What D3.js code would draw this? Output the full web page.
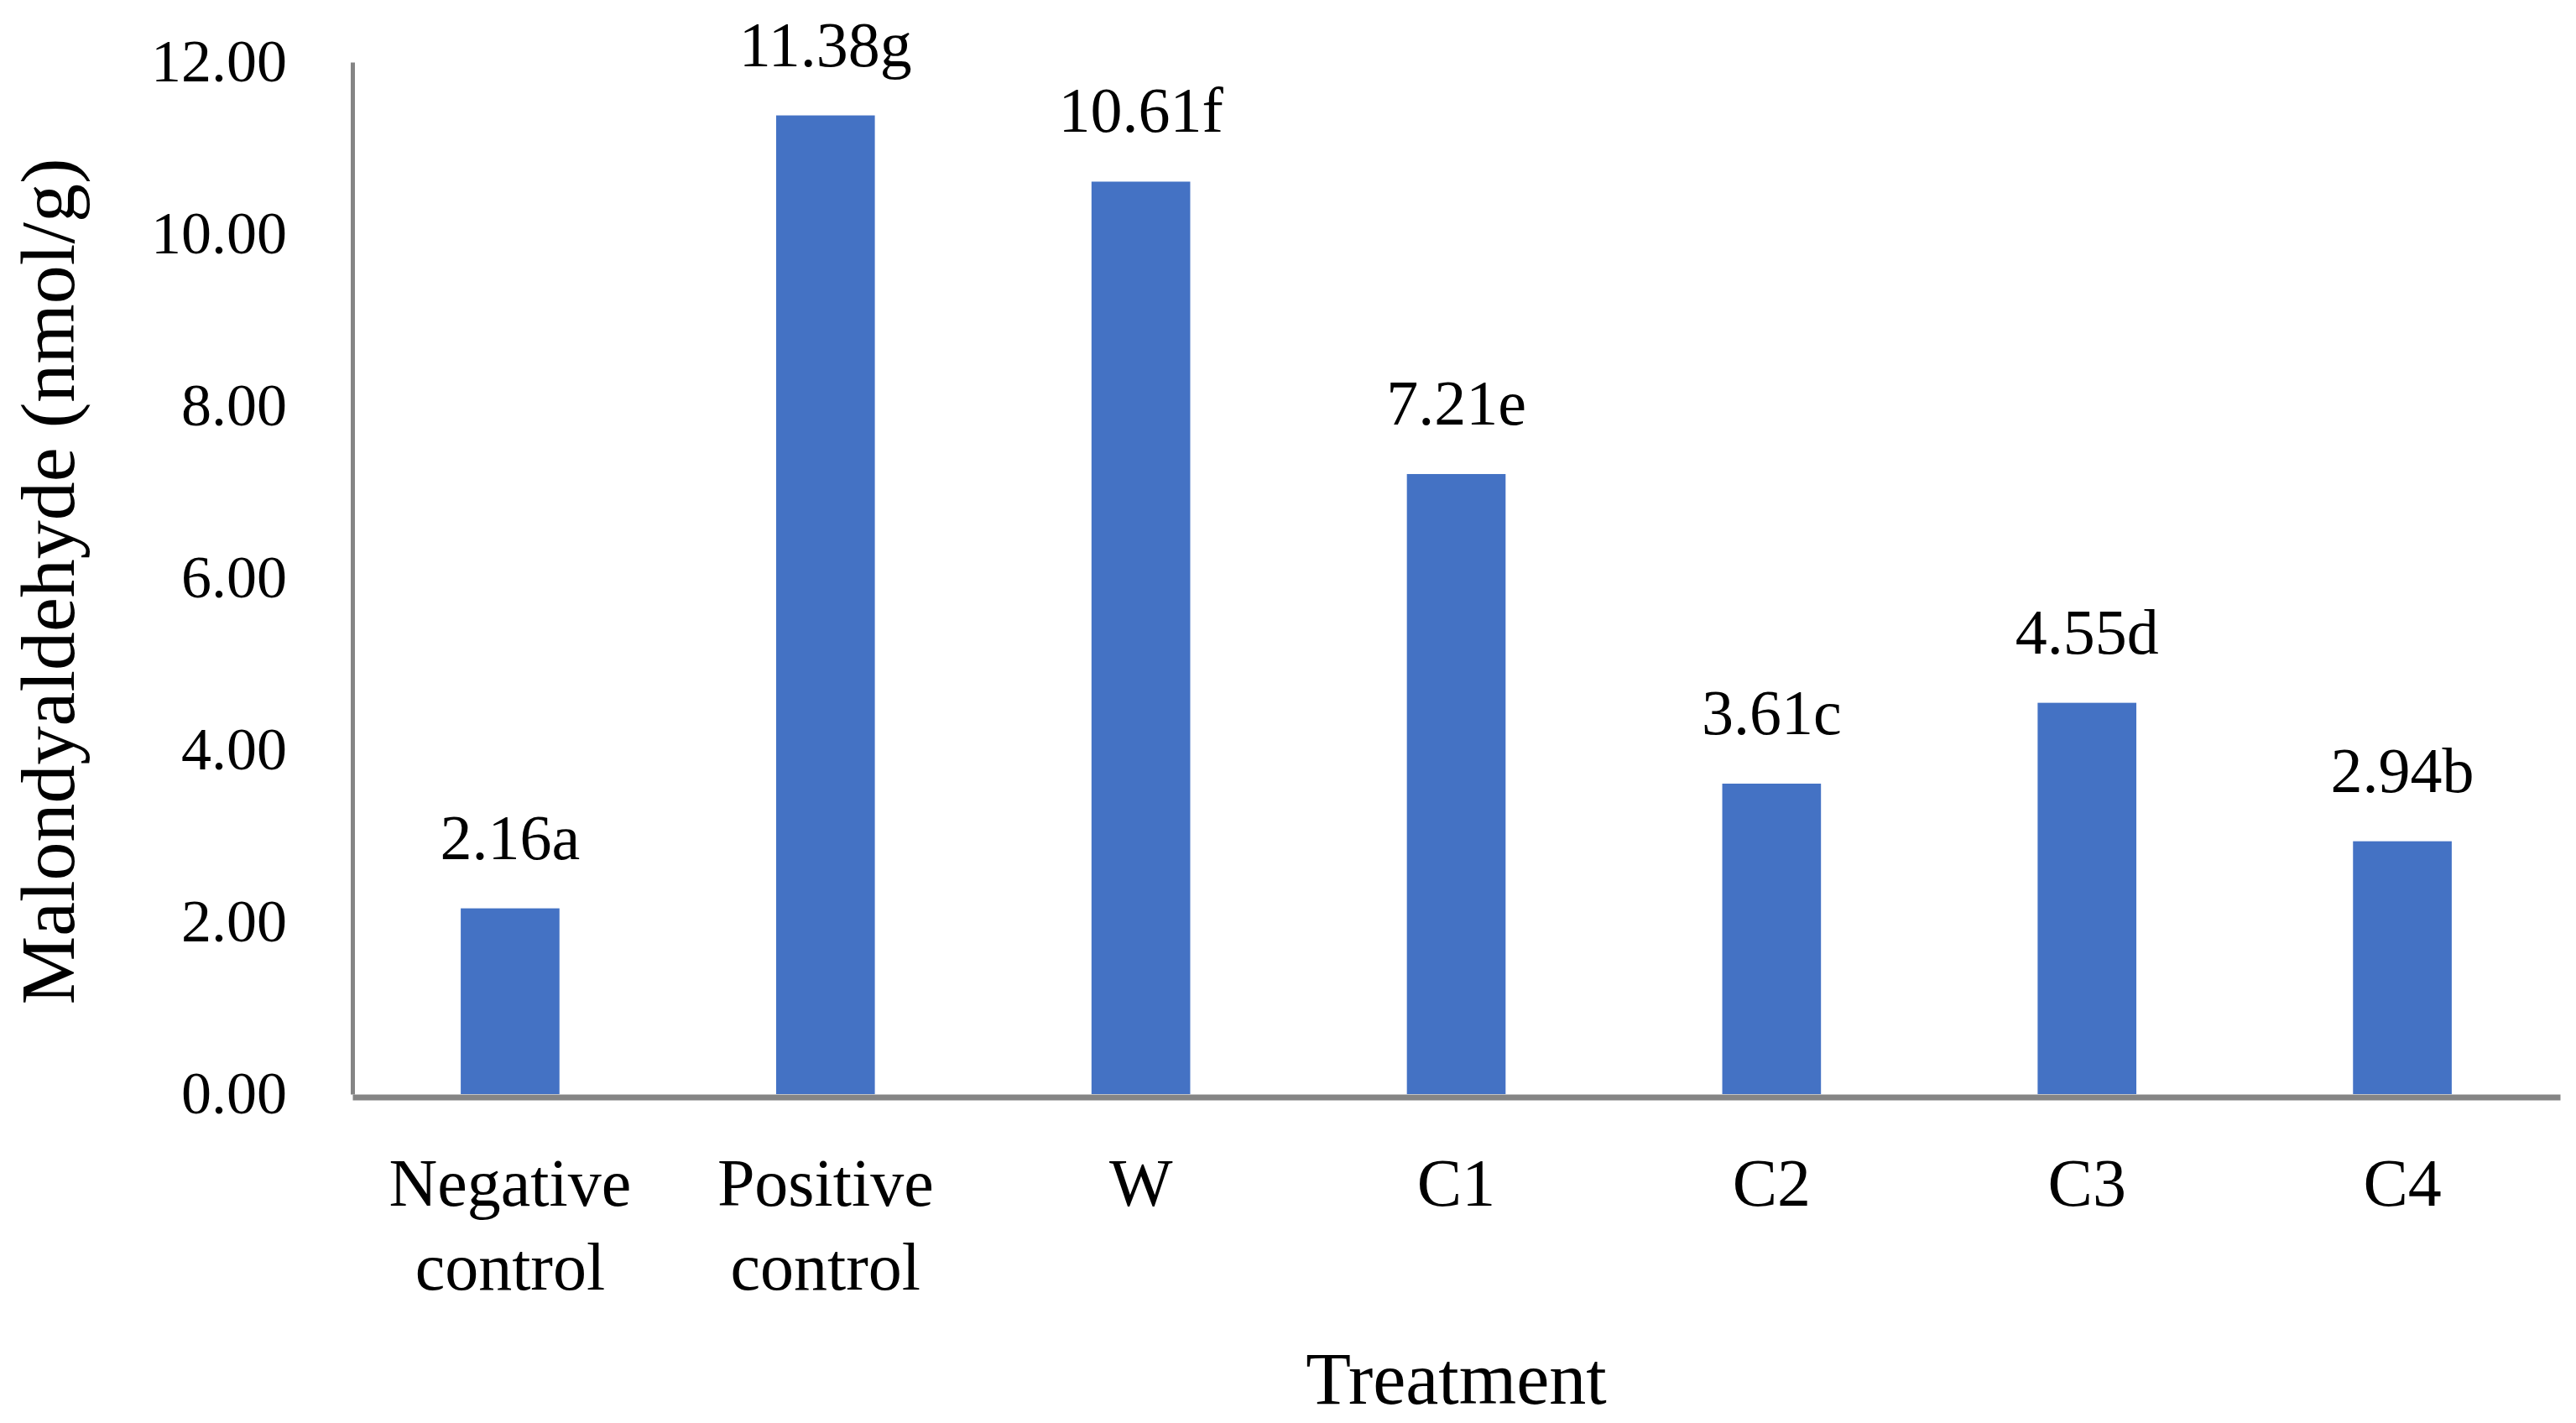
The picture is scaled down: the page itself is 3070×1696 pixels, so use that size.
<!DOCTYPE html>
<html>
<head>
<meta charset="utf-8">
<script src="https://cdn.jsdelivr.net/npm/d3@7"></script>
<style>
  body { margin: 0; background: #fff; }
  text { font-family: "Liberation Serif", "Times New Roman", serif; fill: #000; }
</style>
</head>
<body>
<svg id="chart" width="3070" height="1696"></svg>
<script>
// data
var treatments = ["Negative control", "Positive control", "W", "C1", "C2", "C3", "C4"];
var mda = [2.16, 11.38, 10.61, 7.21, 3.61, 4.55, 2.94];
var letters = ["a", "g", "f", "e", "c", "d", "b"];
var yTicks = [0, 2, 4, 6, 8, 10, 12];

var width = 3070,
    height = 1696,
    margin = {top: 74, right: 19, bottom: 392, left: 420};

var svg = d3.select("#chart");

var x = d3.scaleBand()
  .domain(treatments)
  .range([margin.left, width - margin.right])
  .paddingInner(0.687)
  .paddingOuter(0.3435);

var y = d3.scaleLinear()
  .domain([0, 12])
  .range([height - margin.bottom, margin.top]);

var axisColor = "#858585";

// bars
svg.append("g").selectAll("rect")
  .data(treatments)
  .enter().append("rect")
  .attr("x", d => x(d))
  .attr("y", (d, i) => y(mda[i]))
  .attr("width", x.bandwidth())
  .attr("height", (d, i) => y(0) - y(mda[i]))
  .style("fill", "#4472C4");

// value labels
svg.append("g").selectAll("text")
  .data(treatments)
  .enter().append("text")
  .attr("x", d => x(d) + x.bandwidth() / 2)
  .attr("y", (d, i) => y(mda[i]) - 59)
  .attr("text-anchor", "middle")
  .attr("font-size", "76px")
  .text((d, i) => mda[i].toFixed(2) + letters[i]);

// y axis
var yAxis = d3.axisLeft(y).tickValues(yTicks).tickSize(0).tickPadding(78)
  .tickFormat(d => d.toFixed(2));
var gy = svg.append("g")
  .attr("transform", `translate(${margin.left},0)`)
  .call(yAxis);
gy.select(".domain").attr("stroke", axisColor).attr("stroke-width", 5);
gy.selectAll(".tick text")
  .attr("font-family", "Liberation Serif")
  .attr("font-size", "72px")
  .attr("fill", "#000")
  .attr("dy", "22px");

// x axis
var xAxis = d3.axisBottom(x).tickSize(0).tickSizeOuter(0).tickFormat("");
var gx = svg.append("g")
  .attr("transform", `translate(0,${y(0) + 3.5})`)
  .call(xAxis);
gx.select(".domain").attr("stroke", axisColor).attr("stroke-width", 7);

// x tick labels (two lines where needed)
gx.selectAll(".tick").each(function(d) {
  var words = d.split(" ");
  var t = d3.select(this).append("text")
    .attr("text-anchor", "middle")
    .attr("font-family", "Liberation Serif")
    .attr("font-size", "80px")
    .attr("fill", "#000");
  words.forEach(function(w, k) {
    t.append("tspan").attr("x", 0).attr("y", 129.5 + k * 100).text(w);
  });
});

// axis titles
svg.append("text")
  .attr("transform", `translate(88,693) rotate(-90)`)
  .attr("text-anchor", "middle")
  .attr("font-size", "92px")
  .text("Malondyaldehyde (nmol/g)");

svg.append("text")
  .attr("x", (margin.left + width - margin.right) / 2)
  .attr("y", 1673)
  .attr("text-anchor", "middle")
  .attr("font-size", "88px")
  .text("Treatment");
</script>
</body>
</html>
